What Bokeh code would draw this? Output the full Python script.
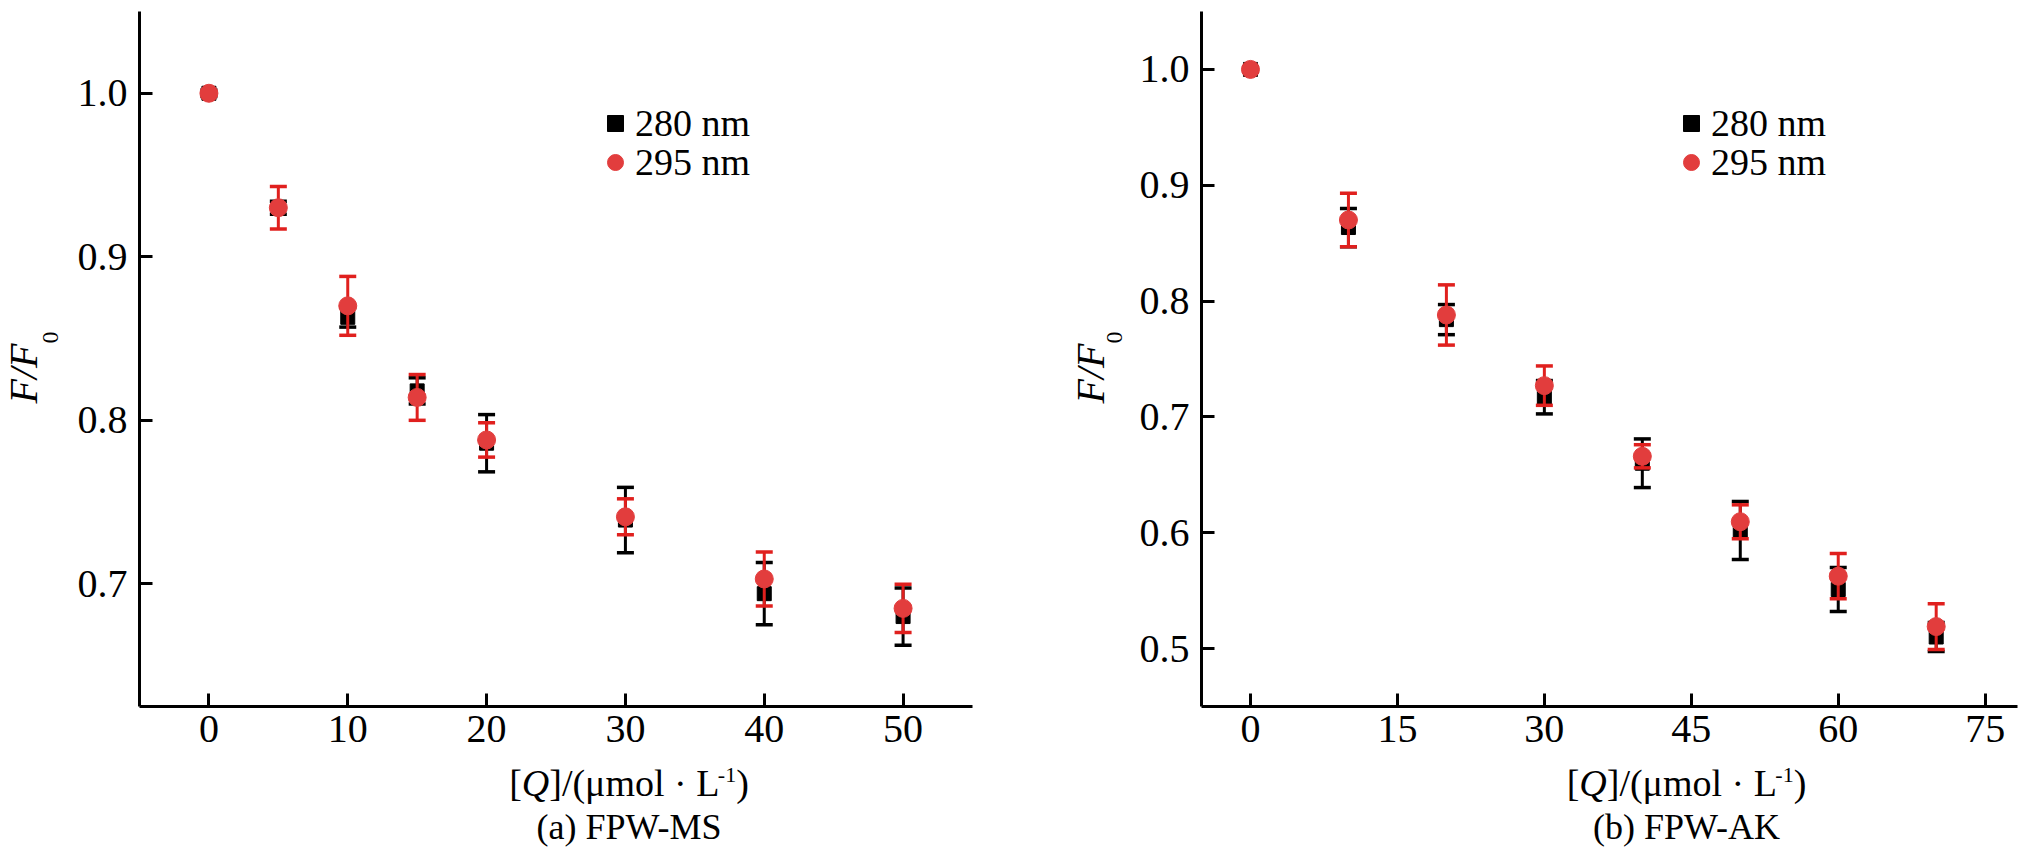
from bokeh.plotting import figure
from bokeh.models import (ColumnDataSource, Whisker, TeeHead, Range1d, FixedTicker,
                          Label, Legend, LegendItem)
from bokeh.layouts import row, column
from bokeh.embed import file_html
from bokeh.resources import INLINE
import math

# ---------------- data ----------------
x_a = [0, 5, 10, 15, 20, 30, 40, 50]
f280_a = [1.000, 0.930, 0.863, 0.818, 0.786, 0.739, 0.694, 0.680]
e280_a = [0.002, 0.004, 0.006, 0.008, 0.0175, 0.020, 0.019, 0.0175]
f295_a = [1.000, 0.930, 0.870, 0.814, 0.788, 0.741, 0.703, 0.685]
e295_a = [0.001, 0.013, 0.018, 0.014, 0.0105, 0.011, 0.0165, 0.0147]

x_b = [0, 10, 20, 30, 40, 50, 60, 70]
f280_b = [1.000, 0.8635, 0.784, 0.717, 0.660, 0.602, 0.551, 0.510]
e280_b = [0.002, 0.0165, 0.013, 0.0144, 0.021, 0.025, 0.019, 0.0126]
f295_b = [1.000, 0.870, 0.788, 0.727, 0.666, 0.6095, 0.5625, 0.519]
e295_b = [0.001, 0.023, 0.026, 0.017, 0.010, 0.0146, 0.0195, 0.0198]

xticks_a = [0, 10, 20, 30, 40, 50]
yticks_a = [0.7, 0.8, 0.9, 1.0]
ytick_labels_a = ["0.7", "0.8", "0.9", "1.0"]
xticks_b = [0, 15, 30, 45, 60, 75]
yticks_b = [0.5, 0.6, 0.7, 0.8, 0.9, 1.0]
ytick_labels_b = ["0.5", "0.6", "0.7", "0.8", "0.9", "1.0"]

series_names = ["280 nm", "295 nm"]
subtitles = ["(a) FPW-MS", "(b) FPW-AK"]

FONT = "Liberation Serif"
BLACK = "#000000"
RED_BAR = "#e0201e"
RED_DOT = "#e23d3d"
DESC = 0.216  # font descent (em)

# approximate Times/Liberation Serif advance widths (em)
W_NORMAL = {'[': 0.333, ']': 0.333, '/': 0.278, '(': 0.333, ')': 0.333, '\u03bc': 0.576,
            'm': 0.778, 'o': 0.5, 'l': 0.278, ' ': 0.25, '\u00b7': 0.25, 'L': 0.611,
            '-': 0.333, '1': 0.5}
W_ITALIC = {'Q': 0.722, 'F': 0.611, '/': 0.278}

TOTAL_H = 849
MAIN_H = 762


def text_width(s, size, italic=False):
    table = W_ITALIC if italic else W_NORMAL
    return sum(table.get(c, 0.5) for c in s) * size


def blank(w, h):
    f = figure(width=w, height=h, x_range=Range1d(0, 1), y_range=Range1d(0, 1),
               output_backend="svg", toolbar_location=None, min_border=0,
               x_axis_type=None, y_axis_type=None)
    f.outline_line_color = None
    f.grid.visible = False
    return f


def ylabel_fig(w, base_x, sub_x):
    # base_x / sub_x: x of the glyph baselines (rotated text), page-relative to this strip
    f = blank(w, TOTAL_H)
    f.add_layout(Label(x=base_x + DESC * 40, y=TOTAL_H - 403, x_units="screen",
                       y_units="screen", text="F/F", angle=math.pi / 2,
                       text_align="left", text_baseline="bottom",
                       text_font=FONT, text_font_style="italic", text_font_size="40px",
                       text_color=BLACK))
    f.add_layout(Label(x=sub_x + DESC * 24, y=TOTAL_H - 343, x_units="screen",
                       y_units="screen", text="0", angle=math.pi / 2,
                       text_align="left", text_baseline="bottom",
                       text_font=FONT, text_font_size="24px", text_color=BLACK))
    return f


def xlabel_fig(w, cx, subtitle):
    h = TOTAL_H - MAIN_H
    f = blank(w, h)
    fs = 38
    sup = 22
    base = 795  # page y of x-label baseline
    pieces = [("[", False, fs, 0), ("Q", True, fs, 0),
              ("]/(\u03bcmol \u00b7 L", False, fs, 0), ("-1", False, sup, 18),
              (")", False, fs, 0)]
    total = sum(text_width(t, s, it) for t, it, s, _ in pieces)
    xpos = cx - total / 2
    for t, it, s, dy in pieces:
        y_bottom = TOTAL_H - (base - dy + DESC * s)
        f.add_layout(Label(x=xpos, y=y_bottom, x_units="screen", y_units="screen",
                           text=t, text_align="left", text_baseline="bottom",
                           text_font=FONT, text_font_size=f"{s}px",
                           text_font_style="italic" if it else "normal",
                           text_color=BLACK))
        xpos += text_width(t, s, it)
    sub_base = 839
    f.add_layout(Label(x=cx, y=TOTAL_H - (sub_base + DESC * 36), x_units="screen",
                       y_units="screen", text=subtitle,
                       text_align="center", text_baseline="bottom",
                       text_font=FONT, text_font_size="36px", text_color=BLACK))
    return f


def make_panel(xs, f280, e280, f295, e295, xr, yr, xticks, yticks, ylabels,
               width, border_left, border_right, legend_x):
    p = figure(width=width, height=MAIN_H, x_range=Range1d(*xr), y_range=Range1d(*yr),
               output_backend="svg", toolbar_location=None,
               min_border_left=border_left, min_border_right=border_right,
               min_border_top=11, min_border_bottom=MAIN_H - 706)
    p.outline_line_color = None
    p.grid.visible = False

    for ax in (p.xaxis[0], p.yaxis[0]):
        ax.axis_line_width = 3
        ax.axis_line_color = BLACK
        ax.major_tick_line_width = 3
        ax.major_tick_line_color = BLACK
        ax.major_tick_in = 13
        ax.major_tick_out = 0
        ax.minor_tick_line_color = None
        ax.major_label_text_font = FONT
        ax.major_label_text_font_size = "40px"
        ax.major_label_text_color = BLACK
        ax.major_label_standoff = 12
    p.xaxis[0].ticker = FixedTicker(ticks=xticks)
    p.yaxis[0].ticker = FixedTicker(ticks=yticks)
    p.yaxis[0].major_label_overrides = {t: s for t, s in zip(yticks, ylabels)}
    p.xaxis[0].major_label_standoff = 9

    s280 = ColumnDataSource(dict(x=xs, y=f280,
                                 lo=[v - e for v, e in zip(f280, e280)],
                                 hi=[v + e for v, e in zip(f280, e280)]))
    s295 = ColumnDataSource(dict(x=xs, y=f295,
                                 lo=[v - e for v, e in zip(f295, e295)],
                                 hi=[v + e for v, e in zip(f295, e295)]))

    r_sq = p.scatter("x", "y", source=s280, marker="square", size=14,
                     fill_color=BLACK, line_color=BLACK, level="underlay")
    for src, col in ((s280, BLACK), (s295, RED_BAR)):
        w = Whisker(source=src, base="x", upper="hi", lower="lo", dimension="height",
                    line_color=col, line_width=3, level="underlay",
                    upper_head=TeeHead(size=17, line_width=3.5, line_color=col),
                    lower_head=TeeHead(size=17, line_width=3.5, line_color=col))
        p.add_layout(w)
    r_ci = p.scatter("x", "y", source=s295, marker="circle", size=18,
                     fill_color=RED_DOT, line_color=RED_DOT)

    for name, r, vy in ((series_names[0], r_sq, 561), (series_names[1], r_ci, 522)):
        lg = Legend(items=[LegendItem(label=name, renderers=[r])],
                    location=(legend_x, vy), padding=0, margin=0, spacing=0,
                    glyph_width=40, glyph_height=40, label_standoff=0,
                    label_text_font=FONT, label_text_font_size="38px",
                    label_text_color=BLACK, border_line_color=None,
                    background_fill_alpha=0)
        p.add_layout(lg)
    return p


p1 = make_panel(x_a, f280_a, e280_a, f295_a, e295_a, (-5, 55), (0.625, 1.05),
                xticks_a, yticks_a, ytick_labels_a,
                width=994, border_left=73, border_right=88, legend_x=456)
p2 = make_panel(x_b, f280_b, e280_b, f295_b, e295_b, (-5, 78.3), (0.45, 1.05),
                xticks_b, yticks_b, ytick_labels_b,
                width=887, border_left=69, border_right=2, legend_x=470)

yl1 = ylabel_fig(66, 37, 52)
yl2 = ylabel_fig(72, 44, 56)
xl1 = xlabel_fig(994, 489.5, subtitles[0])
xl2 = xlabel_fig(887, 485, subtitles[1])

layout = row(yl1, column(p1, xl1, spacing=0), yl2, column(p2, xl2, spacing=0), spacing=0)
open("out.html", "w").write(file_html(layout, INLINE))
